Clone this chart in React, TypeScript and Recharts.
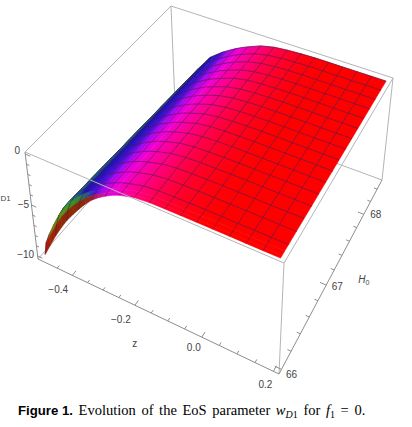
import React from 'react';
import { ScatterChart, Scatter, XAxis, YAxis } from 'recharts';

const WIDTH = 412;
const HEIGHT = 427;

// surface samples, finer on the steep side so the colour bands stay smooth
const zValues = [-0.5, -0.478, -0.456, -0.434, -0.4125, -0.39, -0.369, -0.347, -0.325, -0.303, -0.281, -0.259, -0.2375, -0.194, -0.15, -0.106, -0.0625, -0.019, 0.025, 0.069, 0.1125, 0.156, 0.2];
const hValues = [66, 66.03, 66.08, 66.156, 66.3125, 66.469, 66.625, 66.781, 66.9375, 67.094, 67.25, 67.406, 67.5625, 67.719, 67.875, 68.031, 68.1875, 68.344, 68.5];
const zMeshCols = [0, 2, 4, 6, 8, 10, 12, 13, 14, 15, 16, 17, 18, 19, 20, 21, 22];
const hSkipMesh = [1, 2];

// w: one list per z value, running through hValues
const wAtZ0 = [-10, -9.1, -8.7, -8.4, -8.5, -8.6, -8.7, -8.8, -8.9, -9, -9.1, -9.2, -9.3, -9.4, -9.5, -9.6, -9.7, -9.8, -9.9];
const wAtZ1 = [-8.8, -7.9, -7.35, -7.1, -7.2, -7.3, -7.4, -7.5, -7.6, -7.65, -7.75, -7.85, -7.95, -8.05, -8.15, -8.2, -8.3, -8.4, -8.5];
const wAtZ2 = [-7.6, -6.7, -6.1, -5.9, -6, -6.1, -6.2, -6.3, -6.4, -6.45, -6.55, -6.65, -6.75, -6.85, -6.95, -7, -7.1, -7.2, -7.3];
const wAtZ3 = [-6.5, -5.6, -5.15, -4.95, -5.03, -5.1, -5.18, -5.26, -5.33, -5.41, -5.49, -5.56, -5.64, -5.72, -5.79, -5.87, -5.95, -6.02, -6.1];
const wAtZ4 = [-5.5, -4.7, -4.3, -4.1, -4.17, -4.25, -4.32, -4.39, -4.47, -4.54, -4.61, -4.69, -4.76, -4.83, -4.91, -4.98, -5.05, -5.13, -5.2];
const wAtZ5 = [-4.6, -3.9, -3.5, -3.35, -3.42, -3.49, -3.56, -3.63, -3.7, -3.77, -3.84, -3.91, -3.98, -4.05, -4.12, -4.19, -4.26, -4.33, -4.4];
const wAtZ6 = [-3.8, -3.2, -2.9, -2.75, -2.81, -2.86, -2.92, -2.98, -3.03, -3.09, -3.15, -3.2, -3.26, -3.32, -3.37, -3.43, -3.49, -3.54, -3.6];
const wAtZ7 = [-3, -2.6, -2.35, -2.25, -2.31, -2.36, -2.42, -2.48, -2.53, -2.59, -2.65, -2.7, -2.76, -2.82, -2.87, -2.93, -2.99, -3.04, -3.1];
const wAtZ8 = [-2.3, -2.05, -1.95, -1.85, -1.9, -1.95, -2, -2.05, -2.1, -2.15, -2.2, -2.25, -2.3, -2.35, -2.4, -2.45, -2.5, -2.55, -2.6];
const wAtZ9 = [-1.75, -1.6, -1.5, -1.45, -1.5, -1.55, -1.6, -1.65, -1.7, -1.75, -1.8, -1.85, -1.9, -1.95, -2, -2.05, -2.1, -2.15, -2.2];
const wAtZ10 = [-1.3, -1.2, -1.15, -1.1, -1.15, -1.19, -1.24, -1.29, -1.33, -1.38, -1.43, -1.47, -1.52, -1.57, -1.61, -1.66, -1.71, -1.75, -1.8];
const wAtZ11 = [-0.9, -0.85, -0.85, -0.8, -0.84, -0.89, -0.93, -0.97, -1.02, -1.06, -1.1, -1.15, -1.19, -1.23, -1.28, -1.32, -1.36, -1.41, -1.45];
const wAtZ12 = [-0.6, -0.6, -0.6, -0.58, -0.62, -0.66, -0.69, -0.73, -0.77, -0.81, -0.85, -0.88, -0.92, -0.96, -1, -1.04, -1.07, -1.11, -1.15];
const wAtZ13 = [-0.2, -0.22, -0.23, -0.22, -0.25, -0.27, -0.3, -0.32, -0.35, -0.37, -0.4, -0.42, -0.45, -0.47, -0.5, -0.52, -0.55, -0.57, -0.6];
const wAtZ14 = [-0.05, -0.05, -0.06, -0.07, -0.08, -0.1, -0.11, -0.13, -0.14, -0.15, -0.17, -0.18, -0.2, -0.21, -0.22, -0.24, -0.25, -0.27, -0.28];
const wAtZ15 = [-0.02, -0.02, -0.02, -0.03, -0.04, -0.04, -0.05, -0.06, -0.06, -0.07, -0.08, -0.08, -0.09, -0.1, -0.1, -0.11, -0.12, -0.12, -0.13];
const wAtZ16 = [-0.01, -0.01, -0.01, -0.01, -0.01, -0.02, -0.02, -0.02, -0.02, -0.03, -0.03, -0.03, -0.03, -0.04, -0.04, -0.04, -0.04, -0.05, -0.05];
const wFlat = [0, 0, 0, 0, 0, 0, 0, 0, 0, 0, 0, 0, 0, 0, 0, 0, 0, 0, 0];
const wTable = [wAtZ0, wAtZ1, wAtZ2, wAtZ3, wAtZ4, wAtZ5, wAtZ6, wAtZ7, wAtZ8, wAtZ9, wAtZ10, wAtZ11, wAtZ12, wAtZ13, wAtZ14, wAtZ15, wAtZ16, wFlat, wFlat, wFlat, wFlat, wFlat, wFlat];

const colorsAtH66 = ['#a81c08', '#a02008', '#982408', '#902808', '#8a2a08', '#8a2a08', '#8a2a08', '#8a2a10', '#a02030', '#c01870', '#d010c0', '#e000d8', '#f000c8', '#ff0080', '#ff0050', '#ff0030', '#ff0018', '#ff0008', '#ff0000', '#ff0000', '#ff0000', '#ff0000', '#ff0000'];
const colorsAtH6603 = ['#8a6a10', '#7a7a10', '#6a8a10', '#5a9018', '#4a9020', '#3a8a28', '#2a7a50', '#2a4a90', '#5010e0', '#9808e8', '#e000e8', '#f000d0', '#f800b0', '#ff0080', '#ff0050', '#ff0030', '#ff0018', '#ff0008', '#ff0000', '#ff0000', '#ff0000', '#ff0000', '#ff0000'];
const colorsRest = ['#30a820', '#2ea828', '#28a830', '#1f9a50', '#1f7a80', '#1a50a0', '#1a14b0', '#2a10c8', '#5010e0', '#9808e8', '#e000e8', '#f000d0', '#f800b0', '#ff0080', '#ff0050', '#ff0030', '#ff0018', '#ff0008', '#ff0000', '#ff0000', '#ff0000', '#ff0000', '#ff0000'];

const zMajorTicks = [-0.4, -0.2, 0, 0.2];
const zMinorTicks = [-0.45, -0.35, -0.3, -0.25, -0.15, -0.1, -0.05, 0.05, 0.1, 0.15];
const hMajorTicks = [66, 67, 68];
const hMinorTicks = [66.2, 66.4, 66.6, 66.8, 67.2, 67.4, 67.6, 67.8, 68.2, 68.4];
const wMajorTicks = [0, -5, -10];
const wMinorTicks = [-1, -2, -3, -4, -6, -7, -8, -9];

const zLabelOffsets = [[-14, 18], [-14, 18], [-8, 14], [-8, 17]];
const hLabelOffsets = [[10, 9], [11, 5], [12, 4]];
const wLabelOffsets = [[-8, 0], [-8, 3], [-12, 2]];

// plot box limits, padded like the original
const zBox = [-0.515, 0.215];
const hBox = [65.95, 68.55];
const wBox = [-10.3, 0.2];

// picture of the box corners: near left, near right, far right, far left
const floorCorners = [[38, 259], [279, 374], [382, 180], [175, 104]];
const roofCorners = [[25, 152], [284, 263], [393, 78], [171, 6]];

const squareToQuad = (q: number[][]) => {
  const [[x0, y0], [x1, y1], [x2, y2], [x3, y3]] = q;
  const dx1 = x1 - x2, dx2 = x3 - x2, sx = x0 - x1 + x2 - x3;
  const dy1 = y1 - y2, dy2 = y3 - y2, sy = y0 - y1 + y2 - y3;
  const den = dx1 * dy2 - dx2 * dy1;
  const g = (sx * dy2 - dx2 * sy) / den;
  const h = (dx1 * sy - sx * dy1) / den;
  const a = x1 - x0 + g * x1, b = x3 - x0 + h * x3;
  const d = y1 - y0 + g * y1, e = y3 - y0 + h * y3;
  return (u: number, v: number) => {
    const n = g * u + h * v + 1;
    return [(a * u + b * v + x0) / n, (d * u + e * v + y0) / n];
  };
};
const floorMap = squareToQuad(floorCorners);
const roofMap = squareToQuad(roofCorners);

const project = (z: number, h: number, w: number) => {
  const u = (z - zBox[0]) / (zBox[1] - zBox[0]);
  const v = (h - hBox[0]) / (hBox[1] - hBox[0]);
  const t = (w - wBox[0]) / (wBox[1] - wBox[0]);
  const a = floorMap(u, v);
  const b = roofMap(u, v);
  return { x: a[0] + (b[0] - a[0]) * t, y: a[1] + (b[1] - a[1]) * t };
};

const colorsForRow = (r: number) => (r === 0 ? colorsAtH66 : r === 1 ? colorsAtH6603 : colorsRest);

// far cells first, so nearer cells paint over them
const cells: any[] = [];
for (let r = hValues.length - 2; r >= 0; r--) {
  for (let c = 0; c < zValues.length - 1; c++) {
    const corners = [
      project(zValues[c], hValues[r], wTable[c][r]),
      project(zValues[c + 1], hValues[r], wTable[c + 1][r]),
      project(zValues[c + 1], hValues[r + 1], wTable[c + 1][r + 1]),
      project(zValues[c], hValues[r + 1], wTable[c][r + 1]),
    ];
    const x = corners.reduce((s, p) => s + p.x, 0) / 4;
    const y = corners.reduce((s, p) => s + p.y, 0) / 4;
    cells.push({
      x,
      y,
      id: `cell-${r}-${c}`,
      corners: corners.map((p) => ({ x: p.x - x, y: p.y - y })),
      from: colorsForRow(r)[c],
      to: colorsForRow(r)[c + 1],
      meshCol: zMeshCols.includes(c),
      meshRow: !hSkipMesh.includes(r + 1),
    });
  }
}

const MESH = 'rgba(70,20,70,0.6)';

const CellShape = (props: any) => {
  const { cx, cy, payload } = props;
  const pts = payload.corners.map((p: any) => ({ x: cx + p.x, y: cy + p.y }));
  const [p0, p1, p2, p3] = pts;
  const url = `url(#${payload.id})`;
  // colour bands run along the cell's H direction, whatever its shape on screen
  const ax = (p0.x + p3.x) / 2;
  const ay = (p0.y + p3.y) / 2;
  const bx = (p1.x + p2.x) / 2;
  const by = (p1.y + p2.y) / 2;
  const sx = p3.x - p0.x;
  const sy = p3.y - p0.y;
  const len = Math.hypot(sx, sy) || 1;
  const nx = -sy / len;
  const ny = sx / len;
  let reach = (bx - ax) * nx + (by - ay) * ny;
  if (Math.abs(reach) < 0.05) reach = 0.05;
  return (
    <g>
      <defs>
        <linearGradient
          id={payload.id}
          gradientUnits="userSpaceOnUse"
          x1={ax}
          y1={ay}
          x2={ax + nx * reach}
          y2={ay + ny * reach}
        >
          <stop offset="0" stopColor={payload.from} />
          <stop offset="1" stopColor={payload.to} />
        </linearGradient>
      </defs>
      <polygon points={pts.map((p: any) => `${p.x},${p.y}`).join(' ')} fill={url} stroke={url} strokeWidth={0.6} />
      {payload.meshCol && <line x1={p0.x} y1={p0.y} x2={p3.x} y2={p3.y} stroke={MESH} strokeWidth={1} />}
      {payload.meshRow && <line x1={p3.x} y1={p3.y} x2={p2.x} y2={p2.y} stroke={MESH} strokeWidth={1} />}
    </g>
  );
};

const NoDot = () => <g />;

const BOX = '#b4b4b4';
const AXIS = '#8e8e8e';

const seg = (a: number[], b: number[]) => [project(a[0], a[1], a[2]), project(b[0], b[1], b[2])];
const [z0, z1] = zBox;
const [h0, h1] = hBox;
const [w0, w1] = wBox;

const backEdges = [
  seg([z0, h1, w0], [z1, h1, w0]),
  seg([z1, h1, w0], [z1, h1, w1]),
  seg([z0, h1, w0], [z0, h0, w0]),
  seg([z0, h1, w0], [z0, h1, w1]),
  seg([z0, h1, w1], [z1, h1, w1]),
  seg([z0, h0, w1], [z0, h1, w1]),
];
const frontEdges = [
  seg([z0, h0, w1], [z1, h0, w1]),
  seg([z1, h0, w1], [z1, h1, w1]),
  seg([z1, h0, w0], [z1, h0, w1]),
];
const axisEdges = [
  seg([z0, h0, w0], [z1, h0, w0]),
  seg([z1, h0, w0], [z1, h1, w0]),
  seg([z0, h0, w0], [z0, h0, w1]),
];

const tickSegs = [
  ...zMajorTicks.map((t) => seg([t, h0, w0], [t, h0 + 0.06, w0])),
  ...zMinorTicks.map((t) => seg([t, h0, w0], [t, h0 + 0.035, w0])),
  ...hMajorTicks.map((t) => seg([z1, t, w0], [z1 - 0.018, t, w0])),
  ...hMinorTicks.map((t) => seg([z1, t, w0], [z1 - 0.01, t, w0])),
  ...wMajorTicks.map((t) => seg([z0, h0, t], [z0 + 0.016, h0, t])),
  ...wMinorTicks.map((t) => seg([z0, h0, t], [z0 + 0.009, h0, t])),
];

const minus = (s: string) => s.replace('-', '\u2212');
const labels = [
  ...zMajorTicks.map((t, i) => ({ ...project(t, h0, w0), text: minus(t.toFixed(1)), dx: zLabelOffsets[i][0], dy: zLabelOffsets[i][1] })),
  ...hMajorTicks.map((t, i) => ({ ...project(z1, t, w0), text: String(t), dx: hLabelOffsets[i][0], dy: hLabelOffsets[i][1] })),
  ...wMajorTicks.map((t, i) => ({ ...project(z0, h0, t), text: minus(String(t)), dx: wLabelOffsets[i][0], dy: wLabelOffsets[i][1] })),
  { ...project(-0.1, h0, w0), text: 'z', dx: -33, dy: 26 },
];

const LabelShape = (props: any) => {
  const { cx, cy, payload } = props;
  return (
    <text x={cx + payload.dx} y={cy + payload.dy} textAnchor="middle" fontFamily="Liberation Sans" fontSize={10} fill="#444">
      {payload.text}
    </text>
  );
};

const TitleH = (props: any) => {
  const { cx, cy } = props;
  return (
    <g>
      <text x={cx + 32} y={cy - 2} fontFamily="Liberation Sans" fontStyle="italic" fontSize={10} fill="#444">
        H
        <tspan fontSize={7} fontStyle="normal" dy={2}>0</tspan>
      </text>
    </g>
  );
};

const TitleW = (props: any) => {
  const { cx, cy } = props;
  return (
    <text x={cx - 31} y={cy - 4} fontFamily="Liberation Sans" fontSize={8} fill="#444">
      D1
    </text>
  );
};

const edgeScatter = (list: any[], stroke: string, prefix: string) =>
  list.map((e, i) => (
    <Scatter
      key={`${prefix}-${i}`}
      data={e}
      line={{ stroke, strokeWidth: 1 }}
      shape={NoDot}
      isAnimationActive={false}
    />
  ));

const subStyle: React.CSSProperties = { fontSize: 10, verticalAlign: '-3px', lineHeight: 0 };

export default function App() {
  return (
    <div style={{ position: 'absolute', left: 0, top: 0, width: WIDTH, height: HEIGHT, background: '#fff' }}>
      <ScatterChart width={WIDTH} height={HEIGHT} margin={{ top: 0, right: 0, bottom: 0, left: 0 }}>
        <XAxis type="number" dataKey="x" domain={[0, WIDTH]} hide />
        <YAxis type="number" dataKey="y" domain={[0, HEIGHT]} reversed hide />
        {edgeScatter(backEdges, BOX, 'back')}
        <Scatter data={cells} shape={CellShape} isAnimationActive={false} />
        {edgeScatter(frontEdges, BOX, 'front')}
        {edgeScatter(axisEdges, AXIS, 'axis')}
        {edgeScatter(tickSegs, AXIS, 'tick')}
        <Scatter data={labels} shape={LabelShape} isAnimationActive={false} />
        <Scatter data={[project(z1, 67, w0)]} shape={TitleH} isAnimationActive={false} />
        <Scatter data={[project(z0, h0, -5)]} shape={TitleW} isAnimationActive={false} />
      </ScatterChart>
      <div style={{ position: 'absolute', left: 18, top: 402, whiteSpace: 'nowrap', fontFamily: 'Liberation Serif', fontSize: 14.5, wordSpacing: 2, color: '#000' }}>
        <b style={{ fontFamily: 'Liberation Sans', fontSize: 13.2, wordSpacing: 0 }}>Figure 1.</b> Evolution of the EoS parameter{' '}
        <i>w</i>
        <sub style={subStyle}><i>D</i>1</sub> for <i>f</i>
        <sub style={subStyle}>1</sub> = 0.
      </div>
    </div>
  );
}
